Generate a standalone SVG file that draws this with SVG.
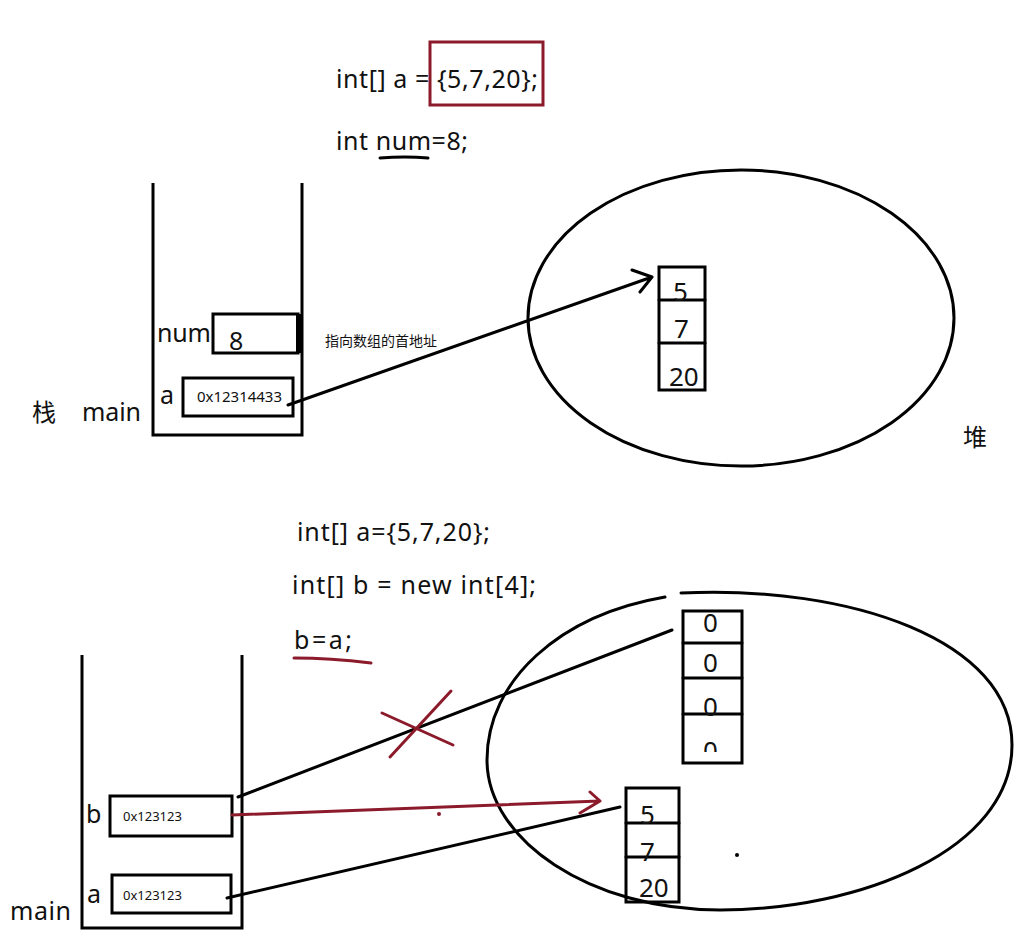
<svg xmlns="http://www.w3.org/2000/svg" width="1018" height="942" viewBox="0 0 1018 942">
<style>
.t{font-family:"Noto Sans","Noto Sans CJK SC",sans-serif;fill:#111;}
.code{font-size:25px;}
.lbl{font-size:25px;}
.small{font-size:13px;}
.cell{font-size:26px;}
.box{fill:none;stroke:#000;stroke-width:3;}
.wall{fill:none;stroke:#000;stroke-width:3;}
.ln{fill:none;stroke:#000;stroke-width:3;stroke-linecap:round;stroke-linejoin:round;}
.red{fill:none;stroke:#8b1a2b;stroke-width:3;stroke-linecap:round;stroke-linejoin:round;}
</style>
<defs>
<clipPath id="c0"><rect x="683" y="611" width="60" height="150"/></clipPath>
<clipPath id="c3"><rect x="683" y="600" width="60" height="152"/></clipPath>
</defs>
<rect width="1018" height="942" fill="#fff"/>

<g id="code-top">
<text class="t code" x="336" y="88" textLength="202" lengthAdjust="spacing">int[] a = {5,7,20};</text>
<rect x="430" y="42" width="113" height="63" fill="none" stroke="#8b1a2b" stroke-width="3"/>
<text class="t code" x="336" y="150" textLength="132" lengthAdjust="spacing">int num=8;</text>
<path class="ln" d="M380 158 Q405 156 428 158"/>
</g>

<g id="stack-top">
<path class="wall" d="M153 183 V435 H302 V183"/>
<text class="t" x="32" y="421" style="font-size:24px">栈</text>
<text class="t lbl" x="82" y="421" textLength="59" lengthAdjust="spacing">main</text>
</g>
<g id="num-var">
<text class="t lbl" x="157" y="342" textLength="54" lengthAdjust="spacing">num</text>
<rect class="box" x="213" y="314" width="85" height="39"/>
<rect x="296" y="314" width="6" height="39" fill="#000"/>
<text class="t" x="229" y="350" style="font-size:25px">8</text>
</g>
<g id="a-var-top">
<text class="t lbl" x="160" y="404">a</text>
<rect class="box" x="183" y="378" width="110" height="38"/>
<text class="t" x="197" y="402" style="font-size:15px" textLength="85" lengthAdjust="spacing">0x12314433</text>
</g>
<g id="note">
<text class="t" x="325" y="346" style="font-size:14px">指向数组的首地址</text>
</g>

<g id="heap-top">
<ellipse cx="741" cy="318" rx="213" ry="148" fill="none" stroke="#000" stroke-width="3"/>
<text class="t" x="963" y="446" style="font-size:24px">堆</text>
</g>
<g id="array-top">
<rect class="box" x="659" y="267" width="46" height="123"/>
<line class="ln" x1="659" y1="300" x2="705" y2="300" stroke-linecap="butt"/>
<line class="ln" x1="659" y1="343" x2="705" y2="343" stroke-linecap="butt"/>
<text class="t cell" x="673" y="301">5</text>
<text class="t cell" x="674" y="338">7</text>
<text class="t cell" x="669" y="386">20</text>
</g>

<g id="code-bottom">
<text class="t code" x="297" y="541" textLength="193" lengthAdjust="spacing">int[] a={5,7,20};</text>
<text class="t code" x="292" y="594" textLength="244" lengthAdjust="spacing">int[] b = new int[4];</text>
<text class="t code" x="294" y="649" style="letter-spacing:2.5px">b=a;</text>
<path class="red" d="M294 658 Q330 658 371 663"/>
</g>

<g id="stack-bottom">
<path class="wall" d="M82 655 V928 H242 V655"/>
<text class="t lbl" x="10" y="920" textLength="61" lengthAdjust="spacing">main</text>
</g>
<g id="b-var">
<text class="t lbl" x="86" y="823">b</text>
<rect class="box" x="110" y="796" width="122" height="40"/>
<text class="t small" x="123" y="821">0x123123</text>
</g>
<g id="a-var-bottom">
<text class="t lbl" x="87" y="903">a</text>
<rect class="box" x="112" y="875" width="119" height="38"/>
<text class="t small" x="123" y="900">0x123123</text>
</g>

<g id="heap-bottom">
<path fill="none" stroke="#000" stroke-width="3" stroke-linecap="round" d="M681 593 C850 585 1012 640 1012 745 C1012 850 860 910 720 910 C590 910 487 840 487 760 C487 680 560 615 665 597"/>
<circle cx="737" cy="855" r="2" fill="#000"/>
</g>
<g id="array-zeros">
<rect class="box" x="683" y="611" width="59" height="152"/>
<line class="ln" x1="683" y1="643" x2="742" y2="643" stroke-linecap="butt"/>
<line class="ln" x1="683" y1="678" x2="742" y2="678" stroke-linecap="butt"/>
<line class="ln" x1="683" y1="714" x2="742" y2="714" stroke-linecap="butt"/>
<text class="t cell" x="703" y="632" clip-path="url(#c0)">0</text>
<text class="t cell" x="703" y="672">0</text>
<text class="t cell" x="703" y="716">0</text>
<text class="t cell" x="703" y="760" clip-path="url(#c3)">0</text>
</g>
<g id="array-a">
<rect class="box" x="626" y="788" width="53" height="114"/>
<line class="ln" x1="626" y1="823" x2="679" y2="823" stroke-linecap="butt"/>
<line class="ln" x1="626" y1="857" x2="679" y2="857" stroke-linecap="butt"/>
<text class="t cell" x="640" y="824">5</text>
<text class="t cell" x="640" y="861">7</text>
<text class="t cell" x="639" y="897">20</text>
</g>

<g id="connectors">
<path class="ln" d="M288 405 L652 277 M632 270 L652 277 L640 292"/>
<path class="ln" d="M238 797 L672 630"/>
<path class="ln" d="M227 898 L620 807"/>
<path class="red" d="M232 815 L600 801 M590 792 L600 801 L580 813"/>
<circle cx="439" cy="814" r="2" fill="#8b1a2b"/>
<path class="red" d="M382 713 L453 745 M390 757 L451 691"/>
</g>
</svg>
